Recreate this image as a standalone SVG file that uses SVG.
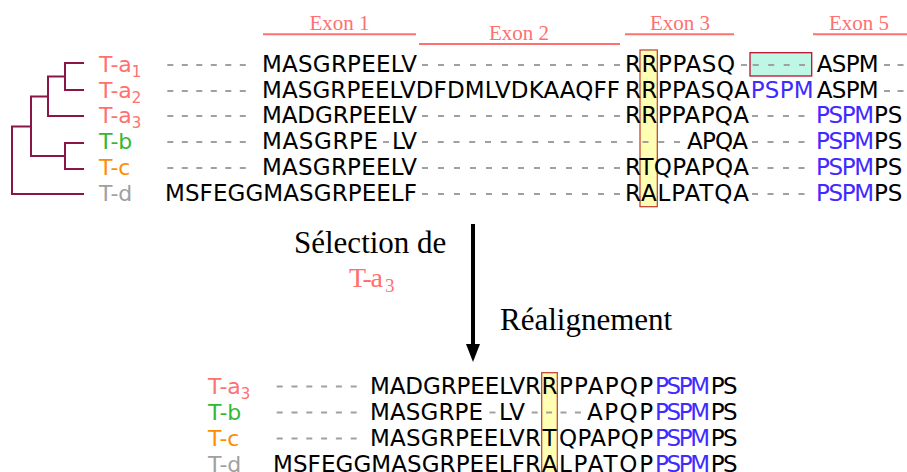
<svg xmlns="http://www.w3.org/2000/svg" width="907" height="472" viewBox="0 0 907 472">
<style>
.seq{font-family:"DejaVu Sans",Verdana,sans-serif;font-size:23px;fill:#000}
.blue{fill:#3f2bff}
.lab{font-family:"DejaVu Sans",Verdana,sans-serif;font-size:22px}
.sub{font-size:15px}
.sa{fill:#ff7070}.sb{fill:#33b833}.sc{fill:#ff8c00}.sd{fill:#a0a0a0}
.gap{stroke:#a0a0a0;stroke-width:1.9;fill:none}
.g1{stroke-dasharray:6 8.5}.g2{stroke-dasharray:6 10}.g3{stroke-dasharray:6 9.5}.g4{stroke-dasharray:6 9.75}.g5{stroke-dasharray:6 8.8}.g6{stroke-dasharray:6 8.4}.g7{stroke-dasharray:6 7.5}
.tree{stroke:#8a1549;stroke-width:2;fill:none;stroke-linecap:square}
.exon{font-family:"Liberation Serif","Times New Roman",serif;font-size:21px;fill:#ff7070}
.exl{stroke:#ff7070;stroke-width:2}
.hl{fill:#ffffb3;stroke:#c0392b;stroke-width:1.2}
.serif{font-family:"Liberation Serif","Times New Roman",serif;font-size:31px;fill:#000}
.mid{font-family:"Liberation Serif","Times New Roman",serif;fill:#ff7070}
</style>

<g id="connectors">
<path class="tree" d="M65,63H83M65,90H83M65,63V90M48,76.5H65M48,116H83M48,76.5V116M31,96.5H48M65,143H83M65,169H83M65,143V169M31,156H65M31,96.5V156M12,126.5H31M12,194H83M12,126.5V194"/>
<line x1="473" y1="224" x2="473" y2="346" stroke="#000" stroke-width="4"/>
<polygon points="466,344 480,344 473,362" fill="#000"/>
</g>

<g id="exons">
<text class="exon" x="339.5" y="30" text-anchor="middle">Exon 1</text>
<line class="exl" x1="263" y1="34.3" x2="416" y2="34.3"/>
<text class="exon" x="519" y="40" text-anchor="middle">Exon 2</text>
<line class="exl" x1="419" y1="44" x2="620" y2="44"/>
<text class="exon" x="680" y="30" text-anchor="middle">Exon 3</text>
<line class="exl" x1="625" y1="34.3" x2="734" y2="34.3"/>
<text class="exon" x="859" y="30" text-anchor="middle">Exon 5</text>
<line class="exl" x1="813" y1="34.3" x2="907" y2="34.3"/>
</g>

<g id="highlights">
<rect class="hl" x="640" y="50" width="17.3" height="156.7"/>
<rect x="750" y="52.7" width="61.7" height="23.3" fill="#bff7e7" stroke="#c0102a" stroke-width="1.3"/>
<rect class="hl" x="541.7" y="372.7" width="15.6" height="102"/>
</g>

<g id="row-Ta1">
<text class="lab sa" x="99" y="72">T-a<tspan class="sub" dy="5">1</tspan></text>
<line class="gap g1" x1="167.3" y1="65" x2="246" y2="65"/>
<text class="seq" x="262" y="72" textLength="155">MASGRPEELV</text>
<line class="gap g2" x1="422" y1="65" x2="620" y2="65"/>
<text class="seq" x="625" y="72" textLength="110">RRPPASQ</text>
<line class="gap" x1="741" y1="65" x2="747" y2="65"/>
<line class="gap g3" x1="752.7" y1="65" x2="805" y2="65"/>
<text class="seq" x="816.7" y="72" textLength="62">ASPM</text>
<line class="gap g7" x1="884" y1="65" x2="904" y2="65"/>
</g>

<g id="row-Ta2">
<text class="lab sa" x="99" y="98">T-a<tspan class="sub" dy="5">2</tspan></text>
<line class="gap g1" x1="167.3" y1="91" x2="246" y2="91"/>
<text class="seq" x="262" y="98" textLength="358">MASGRPEELVDFDMLVDKAAQFF</text>
<text class="seq" x="625" y="98" textLength="125">RRPPASQA</text>
<text class="seq blue" x="750.7" y="98" textLength="63">PSPM</text>
<text class="seq" x="816.7" y="98" textLength="62">ASPM</text>
<line class="gap g7" x1="884" y1="91" x2="904" y2="91"/>
</g>

<g id="row-Ta3">
<text class="lab sa" x="99" y="123">T-a<tspan class="sub" dy="5">3</tspan></text>
<line class="gap g1" x1="167.3" y1="116" x2="246" y2="116"/>
<text class="seq" x="262" y="123" textLength="155">MADGRPEELV</text>
<line class="gap g2" x1="422" y1="116" x2="620" y2="116"/>
<text class="seq" x="625" y="123" textLength="124">RRPPAPQA</text>
<line class="gap g3" x1="752" y1="116" x2="804.5" y2="116"/>
<text class="seq blue" x="816" y="123" textLength="58">PSPM</text>
<text class="seq" x="874" y="123">PS</text>
</g>

<g id="row-Tb">
<text class="lab sb" x="99" y="149">T-b</text>
<line class="gap g1" x1="167.3" y1="142" x2="246" y2="142"/>
<text class="seq" x="262" y="149" textLength="116">MASGRPE</text>
<line class="gap" x1="383" y1="142" x2="389" y2="142"/>
<text class="seq" x="392" y="149" textLength="25">LV</text>
<line class="gap g4" x1="422" y1="142" x2="680" y2="142"/>
<text class="seq" x="687" y="149" textLength="61">APQA</text>
<line class="gap g3" x1="752" y1="142" x2="804.5" y2="142"/>
<text class="seq blue" x="816" y="149" textLength="58">PSPM</text>
<text class="seq" x="874" y="149">PS</text>
</g>

<g id="row-Tc">
<text class="lab sc" x="99" y="175">T-c</text>
<line class="gap g1" x1="167.3" y1="168" x2="246" y2="168"/>
<text class="seq" x="262" y="175" textLength="155">MASGRPEELV</text>
<line class="gap g2" x1="422" y1="168" x2="620" y2="168"/>
<text class="seq" x="625" y="175" textLength="124">RTQPAPQA</text>
<line class="gap g3" x1="752" y1="168" x2="804.5" y2="168"/>
<text class="seq blue" x="816" y="175" textLength="58">PSPM</text>
<text class="seq" x="874" y="175">PS</text>
</g>

<g id="row-Td">
<text class="lab sd" x="99" y="201">T-d</text>
<text class="seq" x="165" y="201" textLength="252">MSFEGGMASGRPEELF</text>
<line class="gap g2" x1="422" y1="194" x2="620" y2="194"/>
<text class="seq" x="625" y="201" textLength="124">RALPATQA</text>
<line class="gap g3" x1="752" y1="194" x2="804.5" y2="194"/>
<text class="seq blue" x="816" y="201" textLength="58">PSPM</text>
<text class="seq" x="874" y="201">PS</text>
</g>

<g id="step-labels">
<text class="serif" x="294" y="252.7">Sélection de</text>
<text class="mid" style="font-size:28px" x="349" y="286.7" textLength="34">T-a</text>
<text class="mid" style="font-size:19px" x="385" y="291.7">3</text>
<text class="serif" x="500" y="330">Réalignement</text>
</g>

<g id="brow-Ta3">
<text class="lab sa" x="208" y="393.5">T-a<tspan class="sub" dy="5">3</tspan></text>
<line class="gap g5" x1="276.7" y1="386.5" x2="356.7" y2="386.5"/>
<text class="seq" x="370" y="393.5" textLength="171">MADGRPEELVR</text>
<text class="seq" x="549.5" y="393.5" text-anchor="middle">R</text>
<text class="seq" x="559" y="393.5" textLength="94">PPAPQP</text>
<text class="seq blue" x="655" y="393.5" textLength="55">PSPM</text>
<text class="seq" x="710.7" y="393.5" textLength="27">PS</text>
</g>

<g id="brow-Tb">
<text class="lab sb" x="208" y="419.5">T-b</text>
<line class="gap g5" x1="276.7" y1="412.5" x2="356.7" y2="412.5"/>
<text class="seq" x="370" y="419.5" textLength="113">MASGRPE</text>
<line class="gap" x1="489.5" y1="412.5" x2="495.5" y2="412.5"/>
<text class="seq" x="499" y="419.5" textLength="26">LV</text>
<line class="gap g6" x1="531.7" y1="412.5" x2="581" y2="412.5"/>
<text class="seq" x="587" y="419.5" textLength="66">APQP</text>
<text class="seq blue" x="655" y="419.5" textLength="55">PSPM</text>
<text class="seq" x="710.7" y="419.5" textLength="27">PS</text>
</g>

<g id="brow-Tc">
<text class="lab sc" x="208" y="445.5">T-c</text>
<line class="gap g5" x1="276.7" y1="438.5" x2="356.7" y2="438.5"/>
<text class="seq" x="370" y="445.5" textLength="171">MASGRPEELVR</text>
<text class="seq" x="549.5" y="445.5" text-anchor="middle">T</text>
<text class="seq" x="559" y="445.5" textLength="94">QPAPQP</text>
<text class="seq blue" x="655" y="445.5" textLength="55">PSPM</text>
<text class="seq" x="710.7" y="445.5" textLength="27">PS</text>
</g>

<g id="brow-Td">
<text class="lab sd" x="208" y="471.5">T-d</text>
<text class="seq" x="273" y="471.5" textLength="268">MSFEGGMASGRPEELFR</text>
<text class="seq" x="549.5" y="471.5" text-anchor="middle">A</text>
<text class="seq" x="559" y="471.5" textLength="94">LPATQP</text>
<text class="seq blue" x="655" y="471.5" textLength="55">PSPM</text>
<text class="seq" x="710.7" y="471.5" textLength="27">PS</text>
</g>
</svg>
